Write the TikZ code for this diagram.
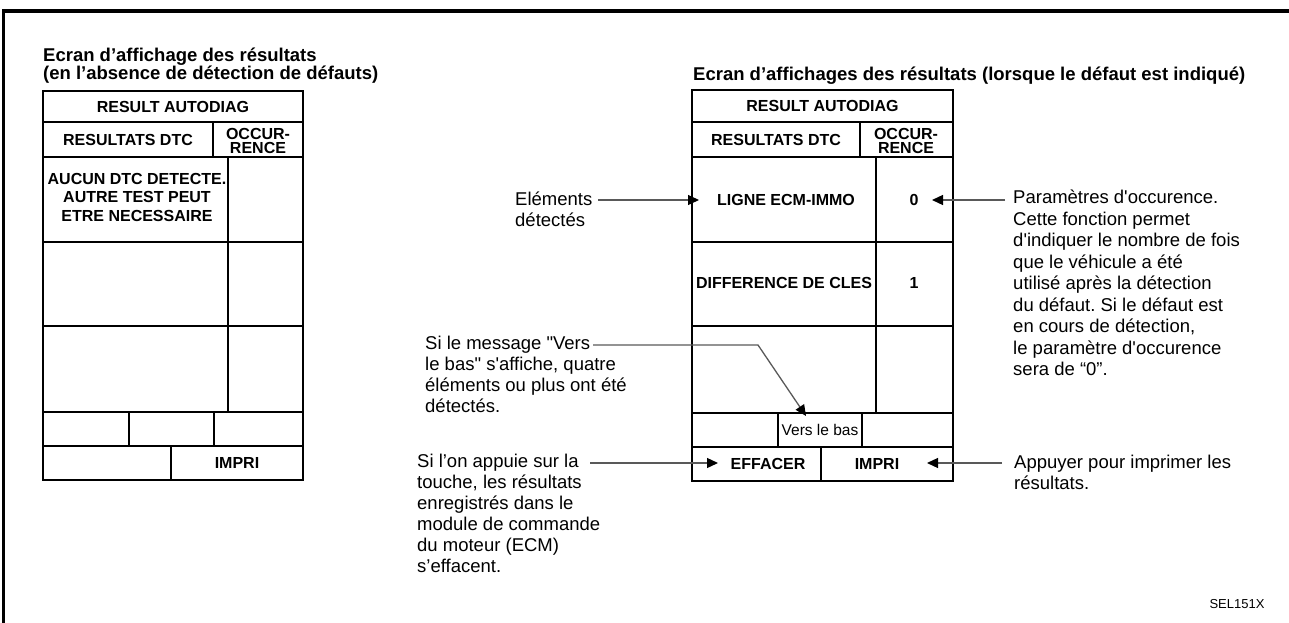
\documentclass[tikz,border=0pt]{standalone}
\usepackage{fontspec}
\setmainfont{Liberation Sans}
\usetikzlibrary{arrows.meta}
\newcommand{\fstrut}{\rule{0pt}{18pt}}
\frenchspacing
\begin{document}
\begin{tikzpicture}[x=1pt,y=-1pt,
  outer/.style={line width=2.8pt},
  inner/.style={line width=1.7pt},
  conn/.style={line width=1.3pt, draw=black!65, -{Triangle[length=11pt,width=10pt,color=black]}},
  cell/.style={inner sep=0pt, font=\fontsize{16}{14}\selectfont\bfseries, align=center},
  note/.style={inner sep=0pt, anchor=north west, align=left, font=\fontsize{18.5}{21}\selectfont},
  ttl/.style={inner sep=0pt, anchor=north west, align=left, font=\fontsize{18.5}{18}\selectfont\bfseries},
]
\useasboundingbox (0,0) rectangle (1289,623);

% frame
\draw[line width=3.2pt] (1289,11) -- (2.5,11);
\draw[line width=2.4pt] (3.5,9.5) -- (3.5,623);

% titles
\node[ttl] (ltitle) at (43,43.6) {\fstrut Ecran d’affichage des résultats\\(en l’absence de détection de défauts)};
\node[ttl] (rtitle) at (693,62.6) {\fstrut Ecran d’affichages des résultats (lorsque le défaut est indiqué)};

% left screen
\draw[outer] (43,91) rectangle (303,480);
\foreach \yy in {122,157,242,326,412,446} \draw[inner] (43,\yy) -- (303,\yy);
\draw[inner] (213,122) -- (213,157);
\draw[inner] (228,157) -- (228,412);
\draw[inner] (129,412) -- (129,446) (214,412) -- (214,446);
\draw[inner] (171,446) -- (171,480);

\node[cell] (lra) at (173,106.5) {RESULT AUTODIAG};
\node[cell] (lrd) at (128,140) {RESULTATS DTC};
\node[cell] (loc) at (258,140.5) {OCCUR-\\RENCE};
\node[cell, font=\fontsize{16}{18.5}\selectfont\bfseries] (lnone) at (137,197) {AUCUN DTC DETECTE.\\AUTRE TEST PEUT\\ETRE NECESSAIRE};
\node[cell] (limp) at (237,463) {IMPRI};

% right screen
\draw[outer] (692,90) rectangle (953,481);
\foreach \yy in {122,157,242,326,413,447} \draw[inner] (692,\yy) -- (953,\yy);
\draw[inner] (860,122) -- (860,157);
\draw[inner] (876,157) -- (876,413);
\draw[inner] (778,413) -- (778,447) (862,413) -- (862,447);
\draw[inner] (821,447) -- (821,481);

\node[cell] (rra) at (822.5,106) {RESULT AUTODIAG};
\node[cell] (rrd) at (776,140) {RESULTATS DTC};
\node[cell] (roc) at (906,140.5) {OCCUR-\\RENCE};
\node[cell] (rl1) at (786,200) {LIGNE ECM-IMMO};
\node[cell] (rv1) at (914,200) {0};
\node[cell] (rl2) at (784,283) {DIFFERENCE DE CLES};
\node[cell] (rv2) at (914,283) {1};
\node[cell, font=\fontsize{15.5}{18}\selectfont] (rvers) at (820,430) {Vers le bas};
\node[cell] (reff) at (768,464) {EFFACER};
\node[cell] (rimp) at (877,464) {IMPRI};

% annotations
\node[note] (nel) at (515,187.5) {\fstrut Eléments\\détectés};
\coordinate (nelS) at (598,200);
\coordinate (nelT) at (699,200);
\draw[conn] (nelS) -- (nelT);

\node[note] (nvers) at (425,331.5) {\fstrut Si le message \textquotedbl Vers\\le bas\textquotedbl{} s\textquotesingle affiche, quatre\\éléments ou plus ont été\\détectés.};
\coordinate (nversS) at (593,345);
\coordinate (nversK) at (758,345);
\coordinate (nversT) at (806,416);
\draw[conn] (nversS) -- (nversK) -- (nversT);

\node[note] (neff) at (417,449.5) {\fstrut Si l’on appuie sur la\\touche, les résultats\\enregistrés dans le\\module de commande\\du moteur (ECM)\\s’effacent.};
\coordinate (neffS) at (590,463);
\coordinate (neffT) at (718,463);
\draw[conn] (neffS) -- (neffT);

\node[note, font=\fontsize{18.5}{21.5}\selectfont] (npar) at (1013,185.5) {\fstrut Paramètres d\textquotesingle occurence.\\Cette fonction permet\\d\textquotesingle indiquer le nombre de fois\\que le véhicule a été\\utilisé après la détection\\du défaut. Si le défaut est\\en cours de détection,\\le paramètre d\textquotesingle occurence\\sera de “0”.};
\coordinate (nparS) at (1005,200);
\coordinate (nparT) at (932,200);
\draw[conn] (nparS) -- (nparT);

\node[note] (napp) at (1014,450.5) {\fstrut Appuyer pour imprimer les\\résultats.};
\coordinate (nappS) at (1002,463);
\coordinate (nappT) at (927,463);
\draw[conn] (nappS) -- (nappT);

\node[inner sep=0pt, font=\fontsize{13}{15}\selectfont] (code) at (1237,604) {SEL151X};
\end{tikzpicture}
\end{document}
